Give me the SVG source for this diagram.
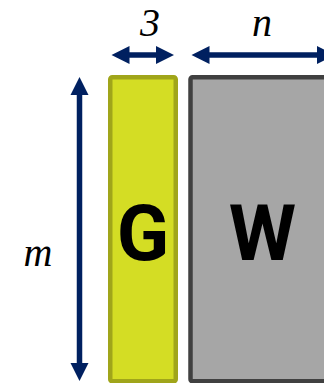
<svg xmlns="http://www.w3.org/2000/svg" width="324" height="383" viewBox="0 0 324 383">
<style>
.lbl{font-family:"Liberation Serif","Times New Roman",serif;font-style:italic;font-size:40px;fill:#000;text-anchor:middle}
.big{font-family:Roboto,"Liberation Sans",sans-serif;font-weight:bold;font-size:77px;fill:#000;text-anchor:middle}
.arr{fill:#002060}
</style>
<g id="G">
<rect x="110.25" y="77.25" width="65.5" height="304" rx="2" fill="#d4dd24" stroke="#a0a51a" stroke-width="4.5"/>
<text class="big" x="143" y="260">G</text>
</g>
<g id="W">
<rect x="190.5" y="77.25" width="150" height="304" rx="2" fill="#a6a6a6" stroke="#404040" stroke-width="4.5"/>
<text class="big" x="262.5" y="260">W</text>
</g>
<g id="connectors">
<path class="arr" d="M79.5 77 L88.5 95 L82.25 95 L82.25 363 L88.5 363 L79.5 381 L70.5 363 L76.75 363 L76.75 95 L70.5 95 Z"/>
<path class="arr" d="M111.5 55 L129.5 46 L129.5 52.25 L156 52.25 L156 46 L174 55 L156 64 L156 57.75 L129.5 57.75 L129.5 64 Z"/>
<path class="arr" d="M191.5 55 L209.5 46 L209.5 52.25 L317 52.25 L317 46 L335 55 L317 64 L317 57.75 L209.5 57.75 L209.5 64 Z"/>
</g>
<g id="labels">
<text class="lbl" x="150" y="36">3</text>
<text class="lbl" x="262" y="36">n</text>
<text class="lbl" x="38" y="265.5">m</text>
</g>
</svg>
